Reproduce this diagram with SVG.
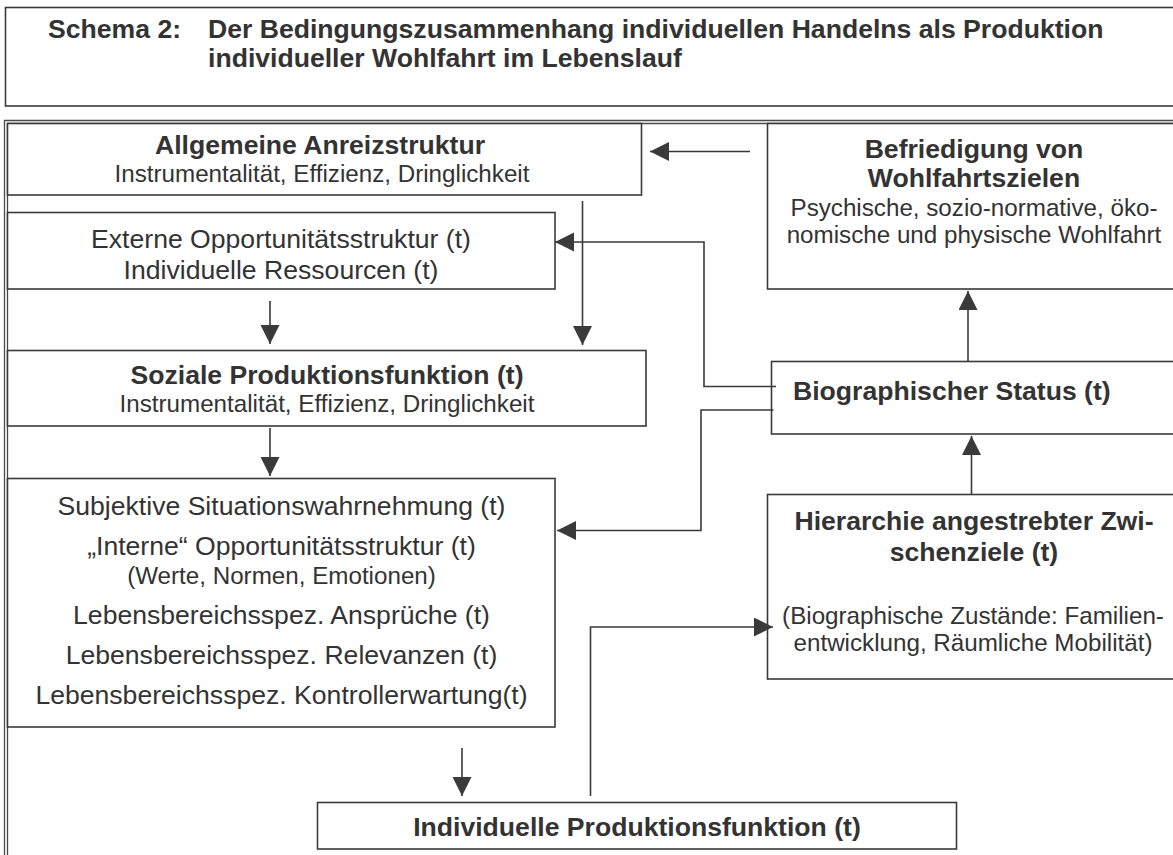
<svg xmlns="http://www.w3.org/2000/svg" width="1173" height="855" viewBox="0 0 1173 855">
<defs>
<style>
.box{fill:#fff;stroke:#3a3a3a;stroke-width:1.6}
.frame{fill:none;stroke:#4a4a4a;stroke-width:1.3}
.t{font-family:"Liberation Sans",Arial,Helvetica,sans-serif;fill:#333}
.b{font-weight:bold;font-size:26.6px}
.r{font-size:26.6px}
.s{font-size:24.2px}
.c{text-anchor:middle}
.conn{fill:none;stroke:#3a3a3a;stroke-width:1.6}
</style>
<marker id="ah" markerUnits="userSpaceOnUse" markerWidth="20" markerHeight="20" refX="19" refY="9.5" orient="auto">
<path d="M0,0 L19,9.5 L0,19 z" fill="#3a3a3a"/>
</marker>
</defs>
<rect width="1173" height="855" fill="#fff"/>

<g id="title">
<rect class="box" x="5.5" y="7.5" width="1200" height="98.5"/>
<text class="t b" x="48" y="38">Schema 2:</text>
<text class="t b" x="208" y="38">Der Bedingungszusammenhang individuellen Handelns als Produktion</text>
<text class="t b" x="208" y="67">individueller Wohlfahrt im Lebenslauf</text>
</g>

<g id="frame">
<path class="frame" d="M4.5,900 V120.5 H1200"/>
<path class="frame" d="M7.5,900 V123.5 H1200"/>
</g>

<g id="anreiz">
<rect class="box" x="7.5" y="123.5" width="634" height="71.5"/>
<text class="t b c" x="320" y="154">Allgemeine Anreizstruktur</text>
<text class="t s c" x="322" y="182">Instrumentalität, Effizienz, Dringlichkeit</text>
</g>

<g id="befriedigung">
<rect class="box" x="767.5" y="123.5" width="450" height="165.5"/>
<text class="t b c" x="974" y="158">Befriedigung von</text>
<text class="t b c" x="974" y="187">Wohlfahrtszielen</text>
<text class="t s c" x="974" y="216">Psychische, sozio-normative, öko-</text>
<text class="t s c" x="974" y="243">nomische und physische Wohlfahrt</text>
</g>

<g id="externe">
<rect class="box" x="7.5" y="212.5" width="547.5" height="76.5"/>
<text class="t r c" x="281" y="248">Externe Opportunitätsstruktur (t)</text>
<text class="t r c" x="281" y="279">Individuelle Ressourcen (t)</text>
</g>

<g id="soziale">
<rect class="box" x="7.5" y="350.5" width="638.5" height="75.5"/>
<text class="t b c" x="327" y="384">Soziale Produktionsfunktion (t)</text>
<text class="t s c" x="327" y="412">Instrumentalität, Effizienz, Dringlichkeit</text>
</g>

<g id="biographisch">
<rect class="box" x="771.5" y="361.5" width="450" height="72.5"/>
<text class="t b" x="793" y="400">Biographischer Status (t)</text>
</g>

<g id="subjektive">
<rect class="box" x="7.5" y="478.5" width="547.5" height="248.5"/>
<text class="t r c" x="281.5" y="515">Subjektive Situationswahrnehmung (t)</text>
<text class="t r c" x="281.5" y="555">„Interne“ Opportunitätsstruktur (t)</text>
<text class="t s c" x="281.5" y="584">(Werte, Normen, Emotionen)</text>
<text class="t r c" x="281.5" y="624">Lebensbereichsspez. Ansprüche (t)</text>
<text class="t r c" x="281.5" y="664">Lebensbereichsspez. Relevanzen (t)</text>
<text class="t r c" x="281.5" y="704">Lebensbereichsspez. Kontrollerwartung(t)</text>
</g>

<g id="hierarchie">
<rect class="box" x="767.5" y="494.5" width="450" height="184.5"/>
<text class="t b c" x="974" y="530">Hierarchie angestrebter Zwi-</text>
<text class="t b c" x="974" y="561">schenziele (t)</text>
<text class="t s c" x="973" y="624">(Biographische Zustände: Familien-</text>
<text class="t s c" x="973" y="651">entwicklung, Räumliche Mobilität)</text>
</g>

<g id="individuelle">
<rect class="box" x="317.5" y="802.5" width="639" height="46.5"/>
<text class="t b c" x="637" y="836">Individuelle Produktionsfunktion (t)</text>
</g>

<g id="connectors">
<path class="conn" d="M750,151.5 H650" marker-end="url(#ah)"/>
<path class="conn" d="M582.5,201 V345" marker-end="url(#ah)"/>
<path class="conn" d="M270,301 V344" marker-end="url(#ah)"/>
<path class="conn" d="M270,428 V476" marker-end="url(#ah)"/>
<path class="conn" d="M462,748 V796" marker-end="url(#ah)"/>
<path class="conn" d="M776,386.5 H704 V242 H555" marker-end="url(#ah)"/>
<path class="conn" d="M773.5,410 H701 V530.5 H557" marker-end="url(#ah)"/>
<path class="conn" d="M968,361.5 V291" marker-end="url(#ah)"/>
<path class="conn" d="M971.5,494 V436" marker-end="url(#ah)"/>
<path class="conn" d="M590.5,796 V627 H773" marker-end="url(#ah)"/>
</g>
</svg>
